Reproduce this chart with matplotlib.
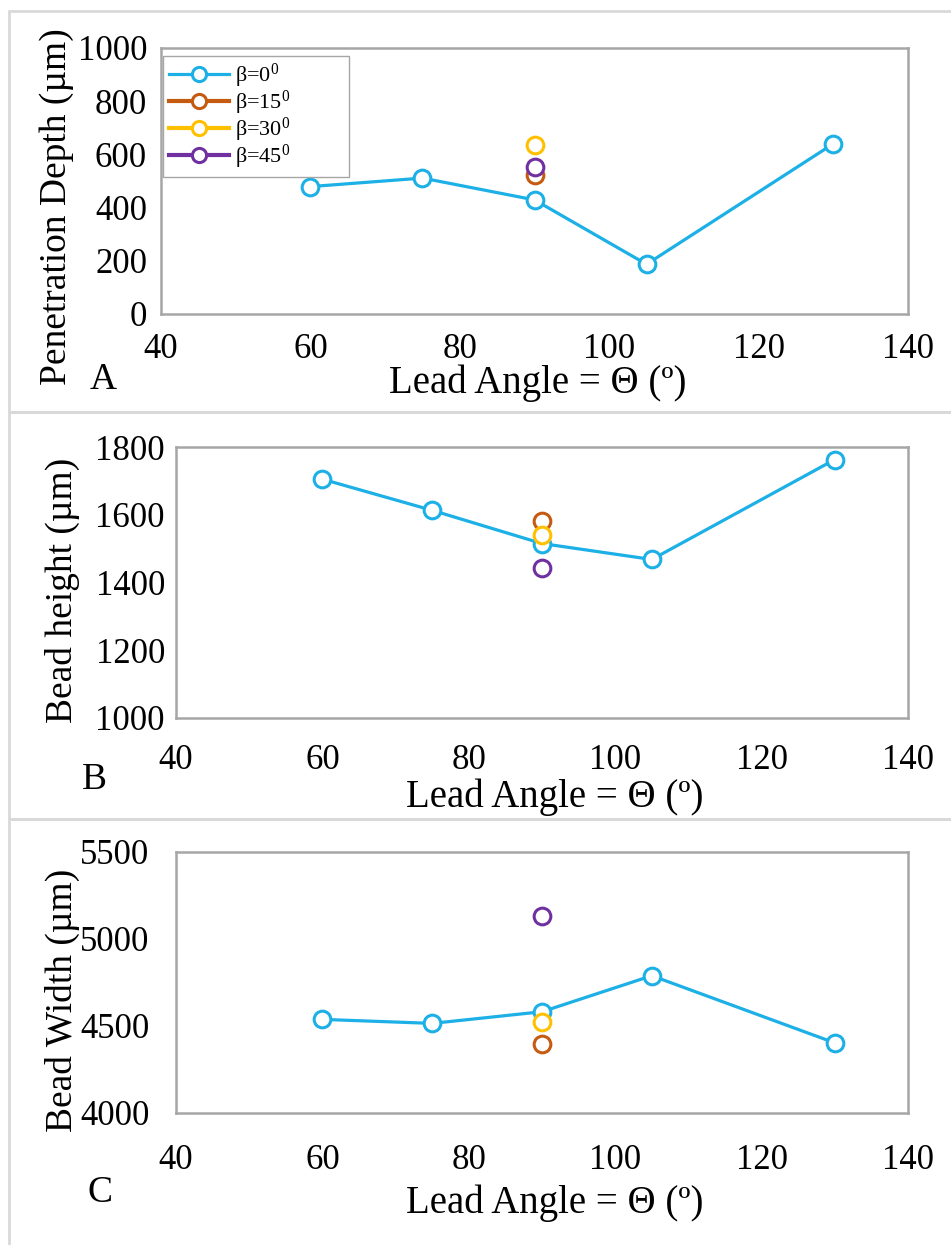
import matplotlib
matplotlib.use("Agg")
import matplotlib.pyplot as plt
from matplotlib.patches import Rectangle

plt.rcParams['font.family'] = ['Liberation Serif', 'DejaVu Serif']
plt.rcParams['mathtext.default'] = 'regular'

# lead angle (deg)
angle = [60, 75, 90, 105, 130]
angle_beta = [90]

# A: penetration depth
depth_b0 = [479, 511, 429, 187, 640]
depth_b15 = [523]
depth_b30 = [636]
depth_b45 = [552]

# B: bead height
height_b0 = [1705, 1613, 1515, 1468, 1763]
height_b15 = [1581]
height_b30 = [1540]
height_b45 = [1444]

# C: bead width
width_b0 = [4538, 4515, 4582, 4789, 4403]
width_b15 = [4394]
width_b30 = [4524]
width_b45 = [5133]

colors = ['#1CB0E6', '#C55A11', '#FFC000', '#7030A0']
labels = [r'β=0$^0$', r'β=15$^0$', r'β=30$^0$', r'β=45$^0$']

W, H = 951, 1245
fig = plt.figure(figsize=(W / 100, H / 100), dpi=100)


def fx(px):
    return px / W


def fy(py):
    return 1 - py / H


# panel frames
for top, bot in [(11, 412), (412, 819), (819, 1260)]:
    fig.add_artist(Rectangle((fx(9), fy(bot)), 1.2, (bot - top) / H,
                             transform=fig.transFigure, fill=False,
                             edgecolor='#d9d9d9', lw=2))


def panel(box, ylim, yticks, b0, b15, b30, b45, ylabel, ylab_xy, letter, letter_xy,
          xlab_xy, xpad, ypad, legend=False):
    l, t, r, b = box
    ax = fig.add_axes([fx(l), fy(b), (r - l) / W, (b - t) / H])
    ax.plot(angle, b0, color=colors[0], lw=2.3, marker='o', ms=12, mfc='white',
            mec=colors[0], mew=2.2, label=labels[0], zorder=3)
    for vals, c, lab in zip([b15, b30, b45], colors[1:], labels[1:]):
        ax.plot(angle_beta, vals, color=c, lw=3, marker='o', ms=12, mfc='white',
                mec=c, mew=2.2, label=lab, zorder=3)
    ax.set_xlim(40, 140)
    ax.set_ylim(*ylim)
    ax.set_yticks(yticks)
    ax.set_xticks([40, 60, 80, 100, 120, 140])
    for s in ax.spines.values():
        s.set_color('#a6a6a6')
        s.set_linewidth(1.8)
    ax.tick_params(length=0, labelsize=25)
    ax.tick_params(axis='x', pad=xpad)
    ax.tick_params(axis='y', pad=ypad)
    fig.text(fx(ylab_xy[0]), fy(ylab_xy[1]), ylabel, rotation=90, fontsize=27,
             ha='center', va='center')
    fig.text(fx(letter_xy[0]), fy(letter_xy[1]), letter, fontsize=27,
             ha='center', va='center')
    fig.text(fx(xlab_xy[0]), fy(xlab_xy[1]), 'Lead Angle = Θ (º)', fontsize=28,
             ha='center', va='center')
    if legend:
        ax.legend(loc='upper left', bbox_to_anchor=(fx(163), fy(163), 186 / W, 107 / H),
                  bbox_transform=fig.transFigure, mode='expand', borderaxespad=0,
                  fontsize=16, frameon=True, fancybox=False, framealpha=1,
                  edgecolor='#a6a6a6', handlelength=2.7, labelspacing=-0.05,
                  borderpad=0.25, handletextpad=0.3, markerscale=0.85)
    return ax


panel((161, 48, 908, 314), (0, 1000), [0, 200, 400, 600, 800, 1000],
      depth_b0, depth_b15, depth_b30, depth_b45, 'Penetration Depth (µm)',
      (57, 207), 'A', (103, 380), (538, 383), 14, 10, legend=True)
panel((176, 447, 908, 718), (1000, 1800), [1000, 1200, 1400, 1600, 1800],
      height_b0, height_b15, height_b30, height_b45, 'Bead height (µm)',
      (62, 590), 'B', (94, 780), (555, 797), 19, 8)
panel((176, 852, 908, 1113), (4000, 5500), [4000, 4500, 5000, 5500],
      width_b0, width_b15, width_b30, width_b45, 'Bead Width (µm)',
      (62, 1000), 'C', (100, 1193), (555, 1203), 22, 19)

fig.savefig('out.png', dpi=100)
